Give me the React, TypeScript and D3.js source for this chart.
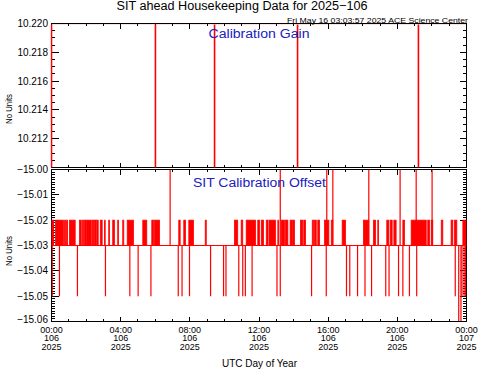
import React from 'react';
import * as d3 from 'd3';

// ---- data (hours of day 106) ----
const hourTicks = [0, 4, 8, 12, 16, 20, 24];
const hourLabels = ['00:00', '04:00', '08:00', '12:00', '16:00', '20:00', '00:00'];
const doyLabels = ['106', '106', '106', '106', '106', '106', '107'];
const yearLabel = '2025';

const gainTicks = [10.212, 10.214, 10.216, 10.218, 10.22];
const gainBase = 10.22;
const gainLow = 10.2; // drops go off the bottom of the panel
const gainDropTimes = [0.0, 6.01, 9.43, 14.23, 21.22];

const offsetTicks = [-15.0, -15.01, -15.02, -15.03, -15.04, -15.05, -15.06];
const offsetBase = -15.03;
const offsetHigh = -15.02;
const offsetLow = -15.05;
const offsetSpikeUp = -14.99;
const offsetSpikeDown = -15.07;

// intervals where the offset sits at -15.02
const offsetHighRuns: [number, number][] = [
  [0.0, 0.12], [0.23, 0.69], [0.75, 0.81], [0.87, 0.93], [1.04, 1.37],
  [1.62, 1.72], [1.78, 1.85], [1.91, 2.01], [2.04, 2.3], [2.35, 2.45],
  [2.49, 2.58], [2.62, 2.7], [2.82, 2.93], [3.06, 3.09], [3.31, 3.35],
  [3.54, 3.64], [3.83, 3.86], [4.12, 4.18], [4.38, 4.74], [5.28, 5.51],
  [5.8, 5.9], [5.96, 6.25], [7.36, 7.44], [7.65, 7.75], [7.94, 8.21],
  [8.89, 8.95], [10.58, 10.77], [10.97, 11.06], [11.26, 11.8], [11.93, 12.03],
  [12.13, 12.26], [12.42, 12.52], [12.58, 12.95], [13.09, 13.14], [13.28, 13.47],
  [13.53, 13.67], [13.8, 13.92], [13.95, 14.05], [14.4, 14.53], [14.59, 14.69],
  [15.08, 15.15], [15.21, 15.31], [15.4, 15.5], [15.79, 16.04], [16.18, 16.27],
  [16.81, 17.0], [18.04, 18.35], [18.62, 18.74], [18.87, 18.9], [19.39, 19.51],
  [19.59, 19.7], [19.8, 19.93], [20.32, 20.41], [20.8, 21.67], [21.76, 21.86],
  [21.96, 22.05], [22.54, 22.63], [23.11, 23.21], [23.31, 23.44], [23.79, 23.99],
];
// single samples at -15.05
const offsetLowTimes = [
  0.04, 0.46, 1.5, 3.12, 4.53, 5.01, 5.75, 7.33, 7.55, 7.98, 9.2, 9.95, 10.09,
  10.83, 11.06, 11.21, 11.6, 13.04, 13.23, 15.04, 15.89, 17.06, 17.25, 17.7,
  18.13, 18.51, 19.33, 19.52, 20.07, 20.32, 20.7, 21.12, 23.35, 23.74, 23.86, 23.95,
];
// samples above the top of the panel
const offsetUpTimes = [6.86, 13.23, 15.92, 16.27, 18.35, 20.16, 21.09, 22.01];
// samples below the bottom of the panel
const offsetDownTimes = [23.55, 23.68];

// ---- layout ----
const W = 481;
const H = 370;
const L = 51.5;
const R = 466.5;
const topPanel = { y0: 23.5, y1: 167.5 };
const botPanel = { y0: 169.5, y1: 321.5 };
const FONT = 'Liberation Sans, Arial, sans-serif';
const RED = '#ff0000';
const BLUE = '#2020c0';

const x = d3.scaleLinear().domain([0, 24]).range([L, R]);
const yGain = d3.scaleLinear().domain([10.21, 10.22]).range([topPanel.y1, topPanel.y0]);
const yOff = d3.scaleLinear().domain([-15.06, -15.0]).range([botPanel.y1, botPanel.y0]);

const fmtMinus = (v: number) => d3.format('.2f')(v).replace('-', '\u2212');

function Frame({ y, y0, y1, major, minor }: any) {
  const xMajor = hourTicks;
  const xMinor = d3.range(0, 25, 1).filter((h) => h % 4 !== 0);
  return (
    <g stroke="#000" strokeWidth={1} fill="none" shapeRendering="crispEdges">
      <rect x={L} y={y0} width={R - L} height={y1 - y0} />
      {xMajor.map((h) => (
        <g key={'xM' + h}>
          <line x1={x(h)} x2={x(h)} y1={y1} y2={y1 - 5} />
          <line x1={x(h)} x2={x(h)} y1={y0} y2={y0 + 5} />
        </g>
      ))}
      {xMinor.map((h) => (
        <g key={'xm' + h}>
          <line x1={x(h)} x2={x(h)} y1={y1} y2={y1 - 2.5} />
          <line x1={x(h)} x2={x(h)} y1={y0} y2={y0 + 2.5} />
        </g>
      ))}
      {major.map((v: number) => (
        <g key={'yM' + v}>
          <line x1={L} x2={L + 7} y1={y(v)} y2={y(v)} />
          <line x1={R} x2={R - 7} y1={y(v)} y2={y(v)} />
        </g>
      ))}
      {minor.map((v: number) => (
        <g key={'ym' + v}>
          <line x1={L} x2={L + 3.5} y1={y(v)} y2={y(v)} />
          <line x1={R} x2={R - 3.5} y1={y(v)} y2={y(v)} />
        </g>
      ))}
    </g>
  );
}

export default function App() {
  const gainMinor = d3.range(0, 21).map((i) => 10.21 + i * 0.0005);
  const offMinor = d3.range(0, 61).map((i) => -15.06 + i * 0.001);

  return (
    <svg
      width={W}
      height={H}
      viewBox={`0 0 ${W} ${H}`}
      style={{ position: 'absolute', left: 0, top: 0, background: '#fff' }}
      fontFamily={FONT}
    >
      <defs>
        <clipPath id="clipTop">
          <rect x={L - 1} y={topPanel.y0 + 1} width={R - L + 1} height={topPanel.y1 - topPanel.y0 - 1} />
        </clipPath>
        <clipPath id="clipBot">
          <rect x={L} y={botPanel.y0 + 0.5} width={R - L} height={botPanel.y1 - botPanel.y0 - 1} />
        </clipPath>
      </defs>
      <rect width={W} height={H} fill="#fff" />

      {/* titles */}
      <text x={242} y={10} fontSize={12.5} textAnchor="middle" textLength={251} lengthAdjust="spacingAndGlyphs">
        SIT ahead Housekeeping Data for 2025{'\u2212'}106
      </text>
      <text x={468} y={22.5} fontSize={7.5} textAnchor="end" textLength={181} lengthAdjust="spacingAndGlyphs">
        Fri May 16 03:03:57 2025 ACE Science Center
      </text>

      {/* top panel */}
      <Frame y={yGain} y0={topPanel.y0} y1={topPanel.y1} major={gainTicks} minor={gainMinor} />
      <g clipPath="url(#clipTop)" stroke={RED} strokeWidth={1.6}>
        <line x1={x(0)} x2={x(24)} y1={yGain(gainBase)} y2={yGain(gainBase)} />
        {gainDropTimes.map((t) => (
          <line key={t} x1={x(t)} x2={x(t)} y1={yGain(gainBase)} y2={yGain(gainLow)} />
        ))}
      </g>
      {gainTicks.map((v) => (
        <text key={v} x={48} y={yGain(v)} dy="0.34em" fontSize={10} textAnchor="end">
          {d3.format('.3f')(v)}
        </text>
      ))}
      <text
        transform={`translate(12,109) rotate(-90)`}
        fontSize={9}
        textAnchor="middle"
        textLength={30}
        lengthAdjust="spacingAndGlyphs"
      >
        No Units
      </text>
      <text x={259} y={38} fontSize={12.5} fill={BLUE} textAnchor="middle" textLength={101} lengthAdjust="spacingAndGlyphs">
        Calibration Gain
      </text>

      {/* bottom panel */}
      <Frame y={yOff} y0={botPanel.y0} y1={botPanel.y1} major={offsetTicks} minor={offMinor} />
      <g clipPath="url(#clipBot)">
        <line x1={x(0)} x2={x(24)} y1={yOff(offsetBase)} y2={yOff(offsetBase)} stroke={RED} strokeWidth={1.2} />
        {offsetHighRuns.map(([a, b]) => (
          <rect
            key={a}
            x={x(a)}
            y={yOff(offsetHigh)}
            width={Math.max(x(b) - x(a), 0.8)}
            height={yOff(offsetBase) - yOff(offsetHigh)}
            fill={RED}
            stroke={RED}
            strokeWidth={0.8}
          />
        ))}
        {offsetLowTimes.map((t) => (
          <line key={'l' + t} x1={x(t)} x2={x(t)} y1={yOff(offsetBase)} y2={yOff(offsetLow)} stroke={RED} strokeWidth={1.2} />
        ))}
        {offsetUpTimes.map((t) => (
          <line key={'u' + t} x1={x(t)} x2={x(t)} y1={yOff(offsetBase)} y2={yOff(offsetSpikeUp)} stroke={RED} strokeWidth={1.2} />
        ))}
        {offsetDownTimes.map((t) => (
          <line key={'d' + t} x1={x(t)} x2={x(t)} y1={yOff(offsetBase)} y2={yOff(offsetSpikeDown)} stroke={RED} strokeWidth={1.2} />
        ))}
      </g>
      {offsetTicks.map((v, i) => (
        <text
          key={v}
          x={48}
          y={yOff(v) - (i === offsetTicks.length - 1 ? 1.5 : 0)}
          dy="0.34em"
          fontSize={10}
          textAnchor="end"
        >
          {fmtMinus(v)}
        </text>
      ))}
      <text
        transform={`translate(12,251) rotate(-90)`}
        fontSize={9}
        textAnchor="middle"
        textLength={30}
        lengthAdjust="spacingAndGlyphs"
      >
        No Units
      </text>
      <text x={259.5} y={186.5} fontSize={12.5} fill={BLUE} textAnchor="middle" textLength={133} lengthAdjust="spacingAndGlyphs">
        SIT Calibration Offset
      </text>

      {/* x axis labels */}
      {hourTicks.map((h, i) => (
        <g key={h} fontSize={9} textAnchor="middle">
          <text x={x(h)} y={332.5}>{hourLabels[i]}</text>
          <text x={x(h)} y={341}>{doyLabels[i]}</text>
          <text x={x(h)} y={349.5}>{yearLabel}</text>
        </g>
      ))}
      <text x={259.5} y={366.5} fontSize={10} textAnchor="middle">
        UTC Day of Year
      </text>
    </svg>
  );
}
